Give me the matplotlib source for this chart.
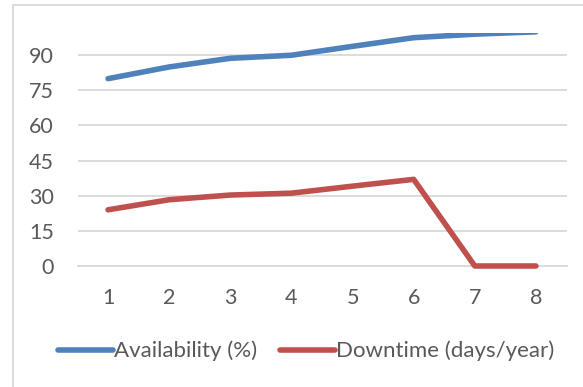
import matplotlib.pyplot as plt
from matplotlib.patches import Rectangle

plt.rcParams['font.family'] = ['Lato', 'DejaVu Sans']

x = [1, 2, 3, 4, 5, 6, 7, 8]
availability = [80, 85, 88.7, 90, 93.8, 97.5, 99, 100]
downtime = [24, 28.3, 30.3, 31.1, 34.1, 37, 0, 0]
yticks = [0, 15, 30, 45, 60, 75, 90]

grey = '#595959'
grid = '#d9d9d9'

fig = plt.figure(figsize=(5.83, 3.87), dpi=100)
ax = fig.add_axes([77.5 / 583, 121 / 387, 489 / 583, 233 / 387])

ax.plot(x, availability, color='#4f81bd', lw=4, solid_capstyle='round',
        label='Availability (%)', zorder=3)
ax.plot(x, downtime, color='#c0504d', lw=4, solid_capstyle='round',
        label='Downtime (days/year)', clip_on=False, zorder=3)

ax.set_xlim(0.5, 8.5)
ax.set_ylim(0, 99.5)
ax.set_xticks(x)
ax.set_yticks(yticks)
ax.grid(axis='y', color=grid, lw=1.3)
ax.set_axisbelow(True)
for s in ['top', 'left', 'right']:
    ax.spines[s].set_visible(False)
ax.spines['bottom'].set_color(grid)
ax.spines['bottom'].set_linewidth(1.3)
ax.tick_params(length=0, labelsize=15.5, labelcolor=grey)
ax.tick_params(axis='y', pad=17)
ax.tick_params(axis='x', pad=16)

fig.legend(loc='center', bbox_to_anchor=(306 / 583, 1 - 351 / 387), ncol=2,
           frameon=False, fontsize=16, labelcolor=grey, handlelength=2.5,
           handletextpad=0.05, columnspacing=1.0)

# chart border (cropped on right and bottom)
fig.patches.append(Rectangle((13 / 583, -0.1), 1.2, 1 - 5 / 387 + 0.1,
                             transform=fig.transFigure, fill=False,
                             edgecolor='#d9d9d9', lw=1.3))

fig.savefig('out.png', dpi=100)
